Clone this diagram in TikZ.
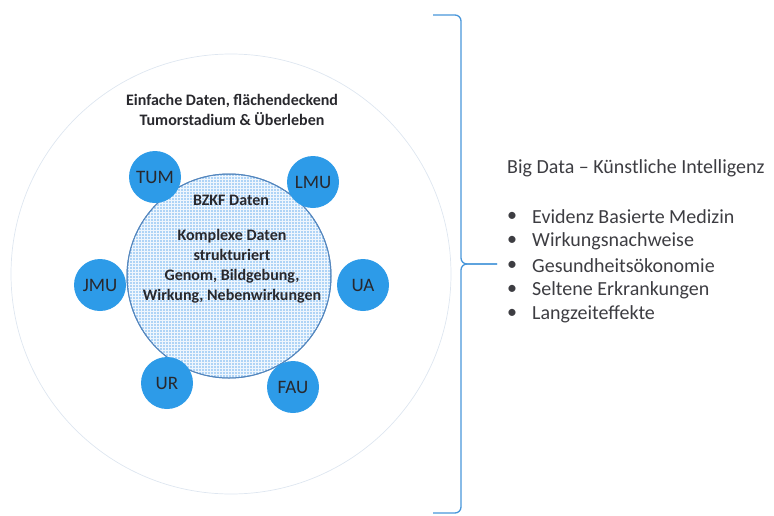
\documentclass[tikz,border=0pt]{standalone}
\usepackage{fontspec}
\setmainfont{Carlito}
\usepackage{xcolor}
\usepackage{tikz}
\usetikzlibrary{shapes,patterns,positioning,backgrounds}

\definecolor{sitefill}{RGB}{45,155,232}
\definecolor{corefill}{RGB}{175,212,246}
\definecolor{coredraw}{RGB}{85,135,190}
\definecolor{ringdraw}{RGB}{222,230,240}
\definecolor{bracecol}{RGB}{72,150,218}
\definecolor{txtcol}{RGB}{40,40,45}

\begin{document}
\begin{tikzpicture}[x=1pt,y=-1pt]
        \tikzstyle{ring}=[circle,draw=ringdraw,line width=0.7pt,minimum size=440pt,inner sep=0pt]
        \tikzstyle{core}=[circle,draw=coredraw,line width=1pt,fill=corefill,minimum size=204pt,inner sep=0pt]
        \tikzstyle{site}=[circle,fill=sitefill,minimum size=52pt,inner sep=0pt,text=txtcol,font=\fontsize{19}{19}\selectfont]
        \tikzstyle{label}=[align=center,text=txtcol,font=\bfseries\fontsize{16}{20}\selectfont]
        \tikzstyle{list}=[anchor=west,text=txtcol!90,inner sep=0pt,font=\fontsize{20}{20}\selectfont]
        \useasboundingbox (0,0) rectangle (774,515);
        \begin{scope}
        \node[ring](outer) at (231,274) {};
        \node[label](simple) at (232,110) {Einfache Daten, flächendeckend\\[0.5pt]Tumorstadium \& Überleben};
        \node[core](bzkf) at (229,276) {};
        \fill[pattern=grid,pattern color=white!80!corefill] (bzkf.center) circle (101.5pt);
        \draw[coredraw,line width=1pt] (bzkf.center) circle (102pt);
        \node[label](bzkfhead) at (231,200) {BZKF Daten};
        \node[label](complex) at (232,266) {Komplexe Daten\\strukturiert\\Genom, Bildgebung,\\Wirkung, Nebenwirkungen};
        \node[site](tum) at (155,177) {TUM};
        \node[site](lmu) at (313,182) {LMU};
        \node[site](jmu) at (100,285) {JMU};
        \node[site](ua)  at (363,285) {UA};
        \node[site](ur)  at (167,383) {UR};
        \node[site](fau) at (293,387) {FAU};
        \end{scope}
        % brace
        \coordinate (bracetop) at (433,15);
        \coordinate (bracetip) at (497,264);
        \coordinate (bracebot) at (433,513);
        \draw[bracecol,line width=1.3pt,rounded corners=6pt] (bracetop) -- (461,15) -- (461,264) -- (bracetip);
        \draw[bracecol,line width=1.3pt,rounded corners=6pt] (bracetip) -- (461,264) -- (461,513) -- (bracebot);
        % list
        \node[list](bigdata) at (507,168) {Big Data -- Künstliche Intelligenz};
        \foreach \txt [count=\i] in {Evidenz Basierte Medizin,Wirkungsnachweise,Gesundheitsökonomie,Seltene Erkrankungen,Langzeiteffekte}{
            \node[list](dot\i) at (507,{217+24.3*(\i-1)}) {\textbullet};
            \node[list](item\i) at (532,{217+24.3*(\i-1)}) {\txt};
        }
    \end{tikzpicture}
\end{document}
